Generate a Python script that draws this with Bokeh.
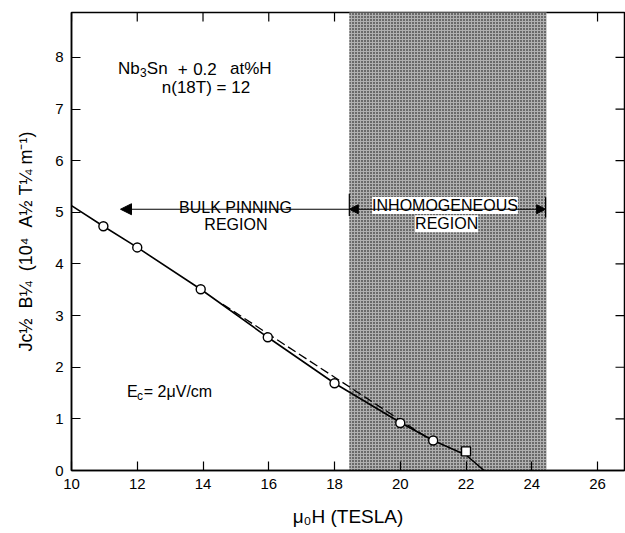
from bokeh.plotting import figure
from bokeh.models import Range1d, FixedTicker, Arrow, NormalHead, Label
from bokeh.core.properties import value
from bokeh.embed import file_html
from bokeh.resources import INLINE

# ---- data ----
field_T = [10.97, 12.0, 13.93, 15.97, 18.0, 20.0, 21.0, 22.0]
jb_vals = [4.73, 4.32, 3.51, 2.58, 1.69, 0.92, 0.58, 0.37]
point_markers = ["circle", "circle", "circle", "circle", "circle", "circle", "circle", "square"]

fit_x = [10.0, 10.97, 12.0, 13.93, 15.97, 18.0, 20.0, 21.0, 22.0, 22.55]
fit_y = [5.13, 4.73, 4.32, 3.51, 2.58, 1.69, 0.93, 0.58, 0.30, 0.0]

dash_x = [14.6, 21.0]
dash_y = [3.22, 0.56]

shade_left = [18.45]
shade_right = [24.45]

x_ticks = [10, 12, 14, 16, 18, 20, 22, 24, 26]
y_ticks = [0, 1, 2, 3, 4, 5, 6, 7, 8]

X0, X1 = 10, 26.82
Y0, Y1 = 0, 8.87
FONT = "Liberation Sans"

p = figure(width=625, height=533, output_backend="svg", toolbar_location=None,
           x_range=Range1d(X0, X1), y_range=Range1d(Y0, Y1),
           min_border_left=71, min_border_right=1, min_border_top=12, min_border_bottom=63)
p.background_fill_color = "white"
p.border_fill_color = "white"
p.outline_line_color = "black"
p.outline_line_width = 1.5
p.xgrid.visible = False
p.ygrid.visible = False

for ax, ticks in ((p.xaxis[0], x_ticks), (p.yaxis[0], y_ticks)):
    ax.ticker = FixedTicker(ticks=ticks)
    ax.major_tick_in = 9
    ax.major_tick_out = 0
    ax.minor_tick_in = 0
    ax.minor_tick_out = 0
    ax.axis_line_color = "black"
    ax.axis_line_width = 1.5
    ax.major_tick_line_color = "black"
    ax.major_tick_line_width = 1.2
    ax.major_label_text_font = FONT
    ax.major_label_text_font_size = "15px"
    ax.major_label_text_color = "black"
    ax.major_label_standoff = 8
    ax.axis_label_text_font = FONT
    ax.axis_label_text_font_style = "normal"
    ax.axis_label_text_color = "black"

p.xaxis[0].axis_label = "μ₀H (TESLA)"
p.xaxis[0].axis_label_text_font_size = "19px"
p.xaxis[0].axis_label_standoff = 14
p.yaxis[0].axis_label = "Jc½\u00a0\u00a0B¼\u00a0\u00a0(10⁴\u00a0\u00a0A½\u00a0T¼\u00a0m⁻¹)"
p.yaxis[0].axis_label_text_font_size = "18px"
p.yaxis[0].axis_label_standoff = 16

# inward ticks on the top and right edges (same tick lists, 9 px long)
tick_dx = 9 * (X1 - X0) / 553.0
tick_dy = 9 * (Y1 - Y0) / 458.0
p.segment(x0=x_ticks, y0=[Y1] * len(x_ticks), x1=x_ticks, y1=[Y1 - tick_dy] * len(x_ticks),
          line_color="black", line_width=1.2)
p.segment(x0=[X1] * len(y_ticks), y0=y_ticks, x1=[X1 - tick_dx] * len(y_ticks), y1=y_ticks,
          line_color="black", line_width=1.2)

# shaded inhomogeneous region
p.quad(left=shade_left, right=shade_right, bottom=[Y0], top=[Y1 + 5],
       fill_color="#b0b0b0", line_color=None,
       hatch_pattern="dot", hatch_scale=3, hatch_color="black", hatch_alpha=1.0)

# curves
p.line(fit_x, fit_y, line_color="black", line_width=1.6)
p.line(dash_x, dash_y, line_color="black", line_width=1.3, line_dash="9 4")
p.scatter(field_T, jb_vals, marker=point_markers, size=9, line_color="black",
          line_width=1.4, fill_color="white")

# text annotations
def txt(x, y, s, size="17px", align="left"):
    p.text(x=[x], y=[y], text=[s], text_font=value(FONT), text_font_size=size,
           text_color="black", text_align=align, text_baseline="alphabetic")

txt(11.414, 7.78, "Nb")
txt(12.08, 7.71, "3", size="12px")
txt(12.29, 7.78, "Sn")
txt(13.38, 7.78, "+", align="center")
txt(13.70, 7.78, "0.2")
txt(14.82, 7.78, "at%H")
txt(14.09, 7.41, "n(18T) = 12", align="center")

txt(14.99, 5.10, "BULK PINNING", size="16px", align="center")
txt(15.00, 4.765, "REGION", size="16px", align="center")

txt(11.69, 1.53, "E", size="16px")
txt(11.99, 1.45, "c", size="12px")
txt(12.20, 1.53, "= 2μV/cm", size="16px")

for s, x, y in (("INHOMOGENEOUS", 21.36, 5.133), ("REGION", 21.41, 4.778)):
    p.add_layout(Label(x=x, y=y, text=s, text_font=FONT, text_font_size="16px",
                       text_color="black", text_align="center", text_baseline="alphabetic",
                       background_fill_color="white", background_fill_alpha=1.0))

# arrows
p.add_layout(Arrow(x_start=18.45, y_start=5.06, x_end=11.49, y_end=5.06,
                   line_color="black", line_width=1.2,
                   end=NormalHead(size=11, fill_color="black", line_color="black")))
p.add_layout(Arrow(x_start=18.45, y_start=5.06, x_end=24.42, y_end=5.06,
                   line_color="black", line_width=1.2,
                   start=NormalHead(size=9, fill_color="black", line_color="black"),
                   end=NormalHead(size=9, fill_color="black", line_color="black")))
p.segment(x0=[18.45, 24.42], y0=[4.93, 4.90], x1=[18.45, 24.42], y1=[5.36, 5.29],
          line_color="black", line_width=1.2)

open("out.html", "w").write(file_html(p, INLINE))
